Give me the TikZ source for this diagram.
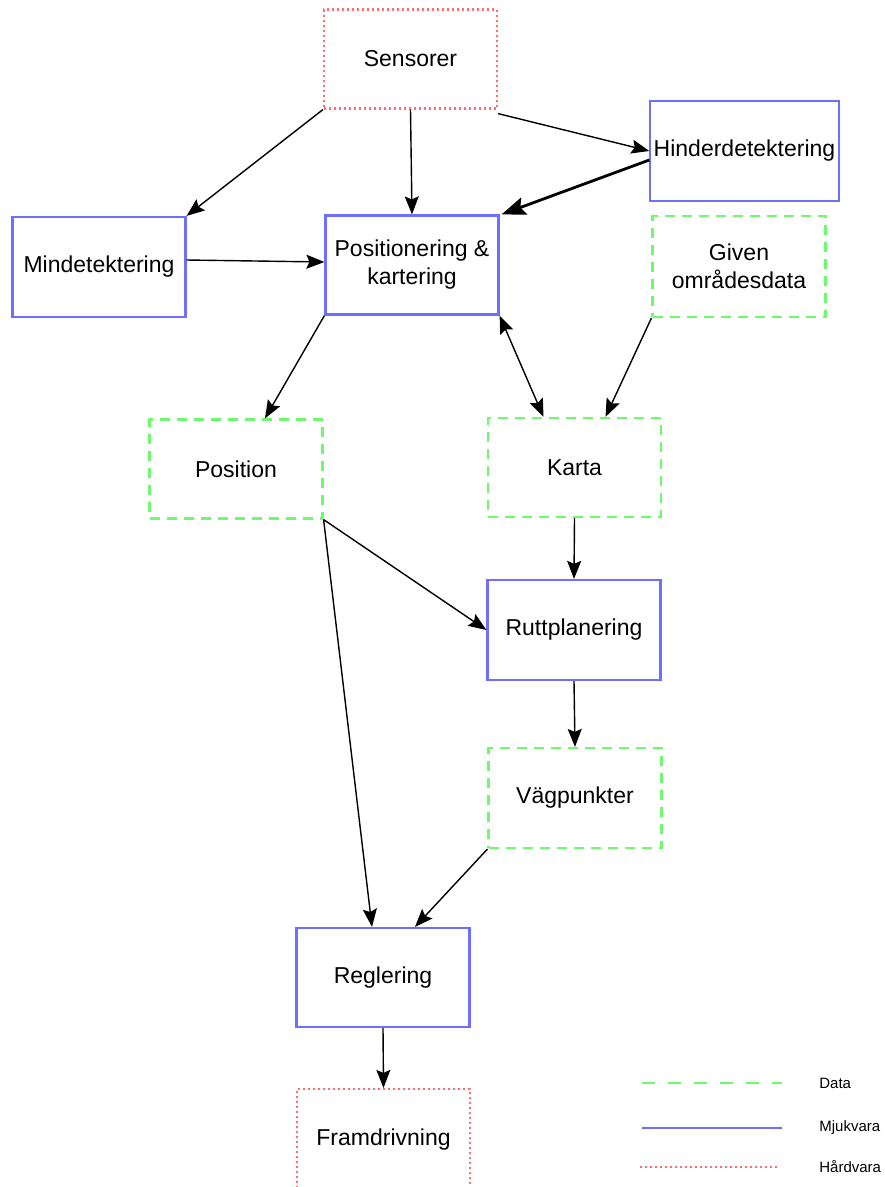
\documentclass[tikz,border=0pt]{standalone}
\usepackage{fontspec}
\setmainfont{Liberation Sans}
\usetikzlibrary{arrows.meta}
\definecolor{softblue}{RGB}{110,110,255}
\definecolor{softgreen}{RGB}{110,250,110}
\definecolor{softred}{RGB}{255,110,110}
\tikzset{
	mjuk/.style={rectangle,draw=softblue,line width=2.2pt,minimum width=173pt,minimum height=99pt,align=center,font=\fontsize{23}{28}\selectfont},
	datab/.style={mjuk,draw=softgreen,dash pattern=on 10pt off 7pt},
	hard/.style={mjuk,draw=softred,dash pattern=on 2pt off 3pt},
	flow/.style={-{Stealth[length=18pt,width=14pt,inset=3pt]},line width=1.4pt},
	legtext/.style={anchor=west,font=\fontsize{15}{18}\selectfont}
}
\begin{document}
\begin{tikzpicture}[x=1pt,y=-1pt]
		\useasboundingbox (0,0) rectangle (885,1187);
		\node [hard] at (410.5,59) (sens) {Sensorer};
		\node [mjuk,minimum width=187pt,minimum height=100pt] at (744.5,151) (hind) {Hinderdetektering};
		\node [mjuk,minimum height=100pt] at (99,267) (mind) {Mindetektering};
		\node [mjuk] at (412,265) (pos) {Positionering \&\\kartering};
		\node [datab,minimum height=101pt] at (739,266.5) (given) {Given\\områdesdata};
		\node [datab] at (236,469) (posn) {Position};
		\node [datab] at (574.5,467.5) (karta) {Karta};
		\node [mjuk,minimum height=100pt] at (574,630) (rutt) {Ruttplanering};
		\node [datab,minimum height=100pt] at (575,798) (vag) {Vägpunkter};
		\node [mjuk] at (383,977.5) (regl) {Reglering};
		\node [hard,minimum height=102pt] at (383.5,1140) (fram) {Framdrivning};
		\draw [flow] (sens.south west) -- (mind.north east);
		\draw [flow] (sens.south) -- (pos.north);
		\draw [flow] ([yshift=-4pt]sens.south east) -- (hind.west);
		\draw [flow,line width=2.8pt,-{Stealth[length=24pt,width=18pt,inset=4pt]}] ([yshift=-9pt]hind.west) -- ([xshift=2pt]pos.north east);
		\draw [flow] ([yshift=7pt]mind.east) -- ([yshift=3pt]pos.west);
		\draw [flow] (pos.south west) -- ([xshift=29pt]posn.north);
		\draw [flow,{Stealth[length=18pt,width=14pt,inset=3pt]}-{Stealth[length=18pt,width=14pt,inset=3pt]}] (pos.south east) -- ([xshift=-31pt]karta.north);
		\draw [flow] (given.south west) -- ([xshift=31pt]karta.north);
		\draw [flow] (karta.south) -- (rutt.north);
		\draw [flow] (posn.south east) -- (rutt.west);
		\draw [flow] (posn.south east) -- ([xshift=-11pt]regl.north);
		\draw [flow] (rutt.south) -- (vag.north);
		\draw [flow] (vag.south west) -- ([xshift=32pt]regl.north);
		\draw [flow] (regl.south) -- (fram.north);
		% legend
		\coordinate (ldata) at (642,1083);
		\coordinate (lmjuk) at (642,1128);
		\coordinate (lhard) at (640,1167);
		\draw [softgreen,line width=2pt,dash pattern=on 13pt off 13pt] (ldata) -- ++(140,0) node [legtext,black,xshift=33pt] {Data};
		\draw [softblue,line width=2pt] (lmjuk) -- ++(140,0) node [legtext,black,xshift=33pt] {Mjukvara};
		\draw [softred,line width=2pt,dash pattern=on 2pt off 3pt] (lhard) -- ++(140,0) node [legtext,black,xshift=35pt] {Hårdvara};
	\end{tikzpicture}
\end{document}
